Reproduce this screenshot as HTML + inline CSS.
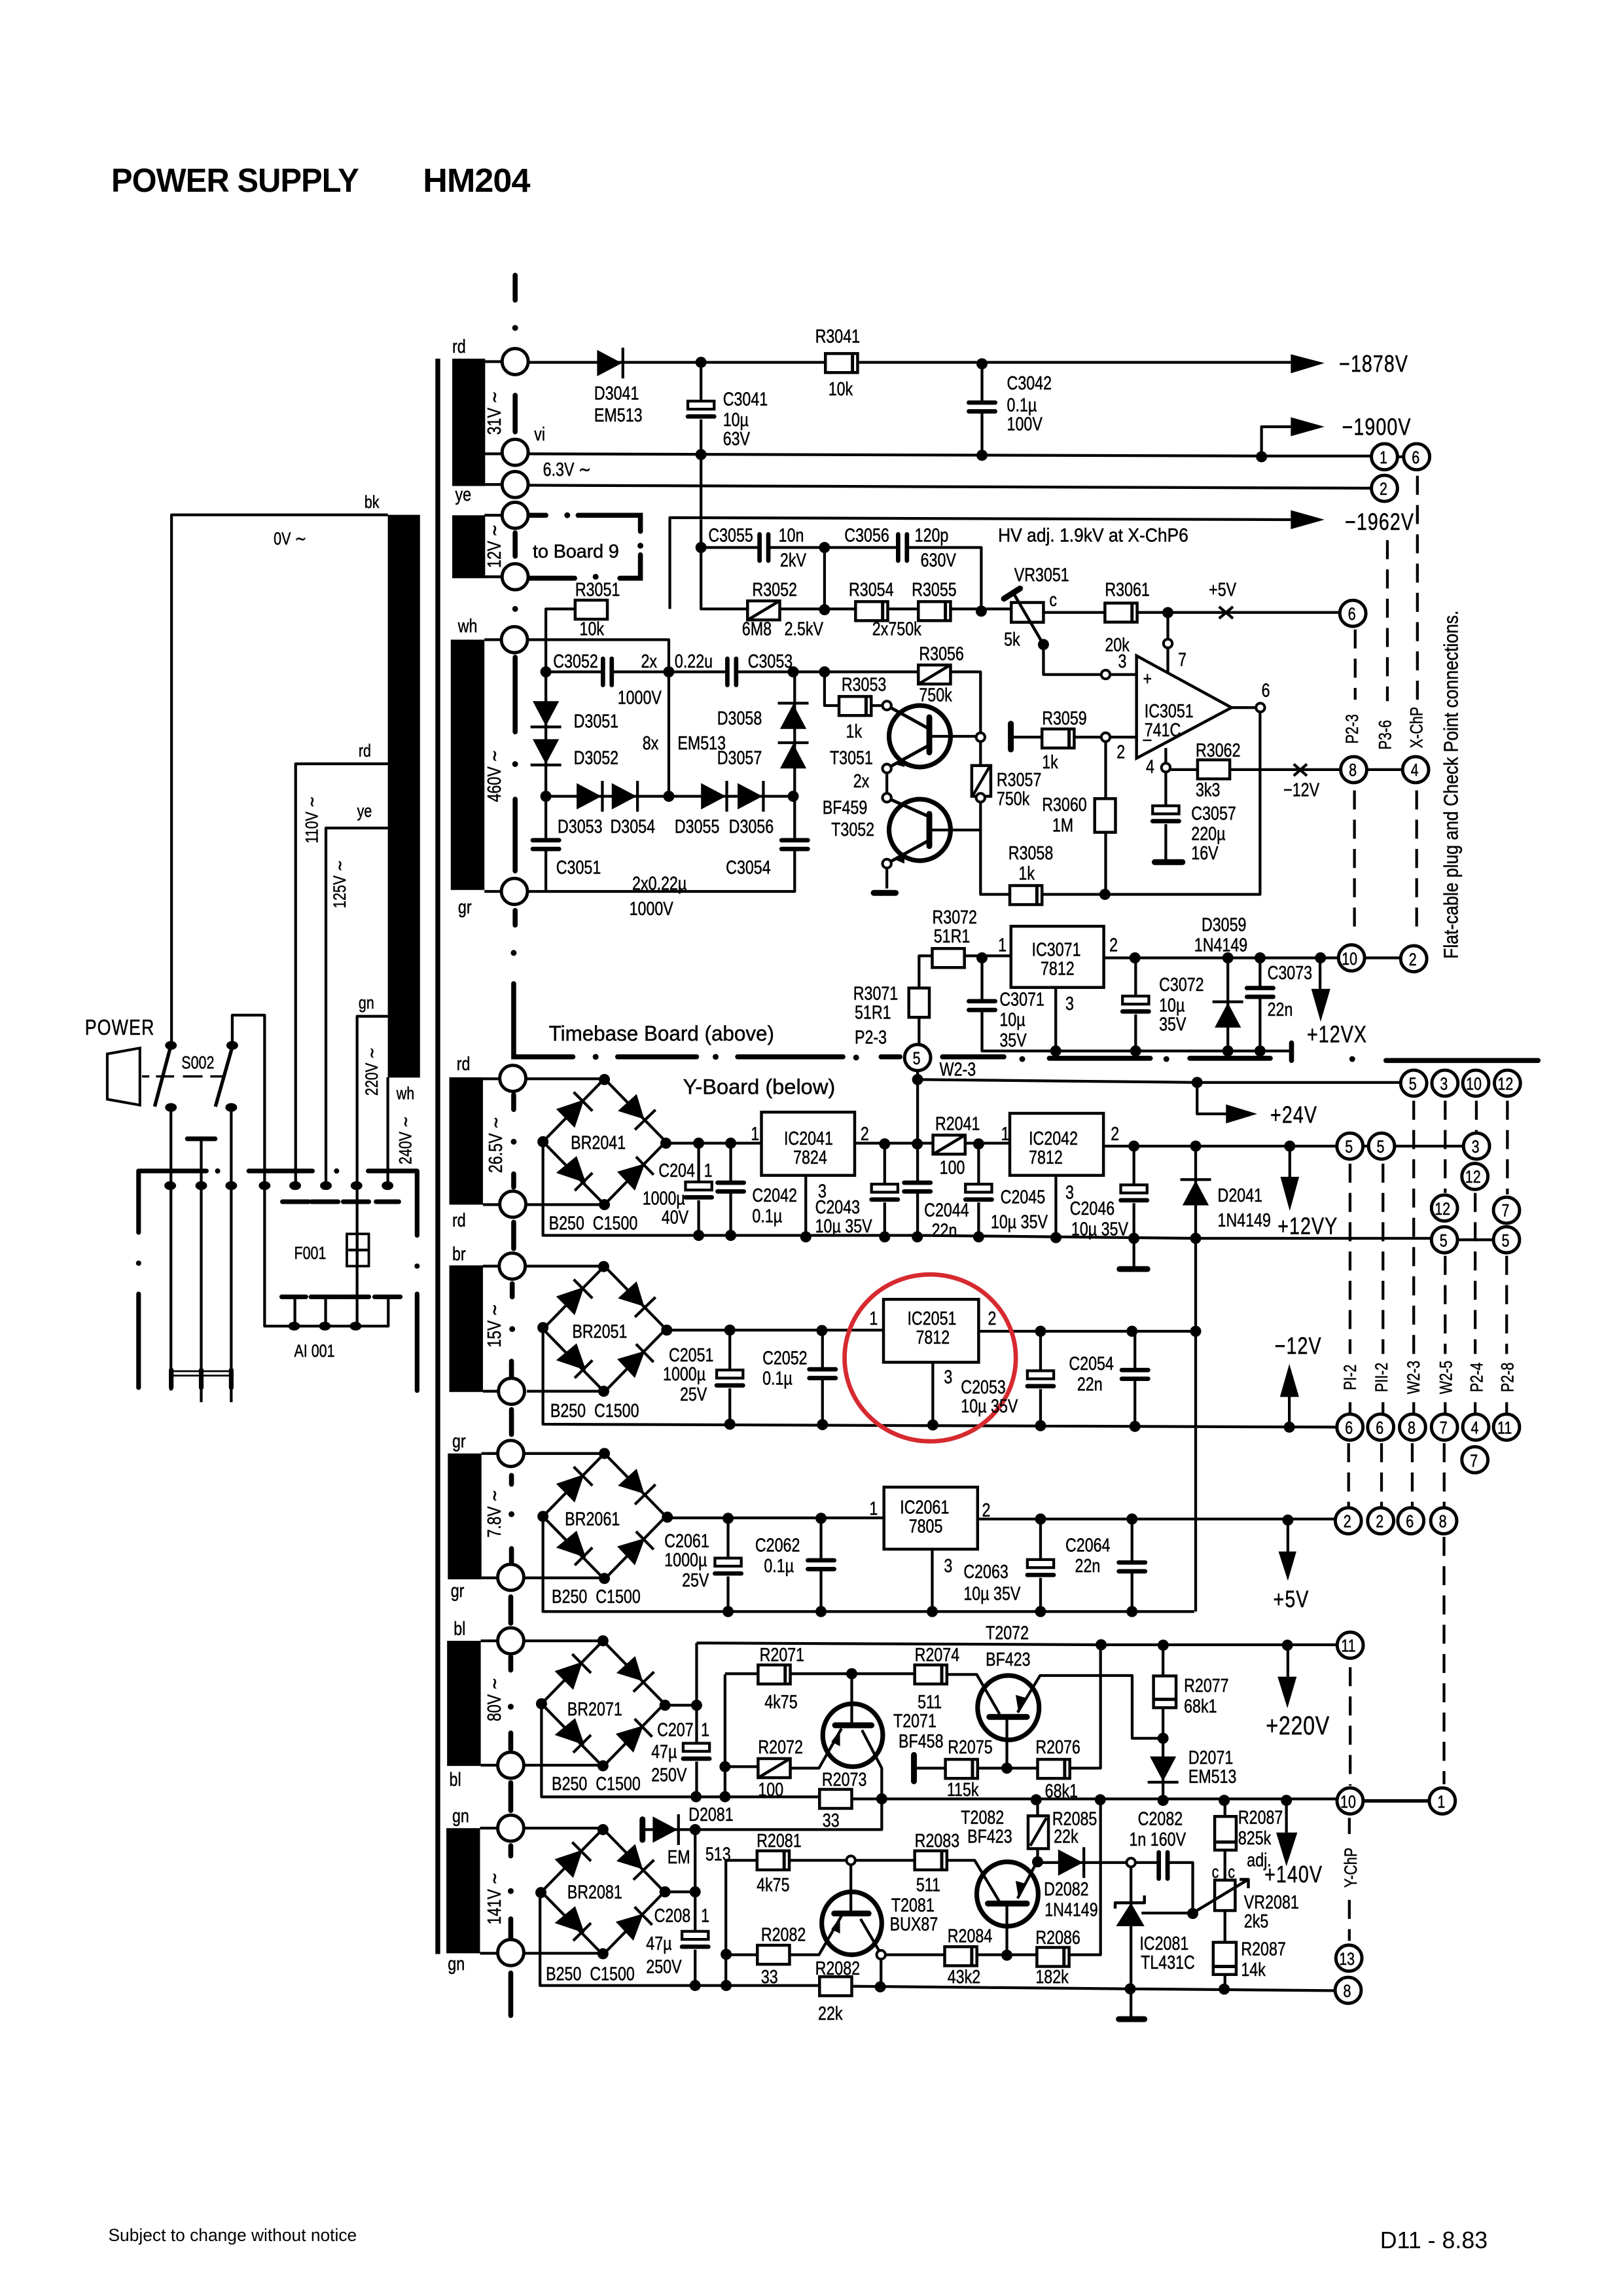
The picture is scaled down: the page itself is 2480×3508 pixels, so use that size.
<!DOCTYPE html>
<html><head><meta charset="utf-8"><title>Power Supply HM204</title>
<style>
html,body{margin:0;padding:0;background:#fff}
svg{display:block;width:2480px;height:3508px}
.w{fill:none;stroke:#000;stroke-width:1.9;stroke-linejoin:round}
.th{fill:none;stroke:#000;stroke-width:3.2;stroke-linecap:round}
.d{fill:none;stroke:#000;stroke-width:1.9;stroke-dasharray:13 7}
text{font-family:"Liberation Sans",sans-serif;font-size:13px;fill:#000;stroke:#000;stroke-width:.22}
text:not([transform]):not(.b):not(.x){transform-box:fill-box;transform-origin:0 50%;transform:scaleX(.8)}
.c text:not([transform]){transform-origin:50% 50%;transform:scaleX(.8)}
text.l:not([transform]){font-size:16px;letter-spacing:.6px;transform:scaleX(.72)}
text.g:not([transform]){font-size:18px;letter-spacing:.4px;transform:scaleX(.72)}
.c text{text-anchor:middle}
.b{font-weight:bold;font-size:23px;letter-spacing:-.4px;stroke-width:0}
.n12{font-size:12px}
</style></head><body>
<svg xmlns="http://www.w3.org/2000/svg" viewBox="0 0 1109 1568.6">
<defs>
<circle id="n" r="3.8"/>
<circle id="o" r="3" fill="#fff" stroke="#000" stroke-width="1.8"/>
<circle id="t" r="8.9" fill="#fff" stroke="#000" stroke-width="2.2"/>
<g id="r"><rect x="-11" y="-6.5" width="22" height="13" fill="#fff" stroke="#000" stroke-width="2"/></g>
<g id="rb"><rect x="-11" y="-6.5" width="22" height="13" fill="#fff" stroke="#000" stroke-width="2"/><path d="M7.5 -6V6" stroke="#000" stroke-width="2.2"/></g>
<g id="rs"><rect x="-11" y="-6.5" width="22" height="13" fill="#fff" stroke="#000" stroke-width="2"/><path d="M-10 6L10 -6" stroke="#000" stroke-width="2"/></g>
<g id="cp"><rect x="-10" y="-2.5" width="20" height="5" fill="#fff"/><path d="M-9 -3H9M-9 3H9" stroke="#000" stroke-width="3" stroke-linecap="round"/></g>
<g id="pc"><rect x="-10" y="-6" width="20" height="13" fill="#fff"/><rect x="-9" y="-5.5" width="18" height="5.5" fill="#fff" stroke="#000" stroke-width="1.9"/><path d="M-9 5H9" stroke="#000" stroke-width="3" stroke-linecap="round"/></g>
<g id="dr"><polygon points="-9,-9 -9,9 8,0"/><path d="M8.6 -10.5V10.5" stroke="#000" stroke-width="1.9"/></g>
<g id="br">
<path class="w" d="M-42 0L0 -43L42 0L0 43Z"/>
<polygon points="-33,-22.3 -20.3,-9.5 -13.9,-28.7"/><path d="M-21 -33.9L-8.2 -21" stroke="#000" stroke-width="1.9"/>
<polygon points="9.2,-21 22,-32.6 27.2,-15.4"/><path d="M20.8 -8.2L34.9 -21.8" stroke="#000" stroke-width="1.9"/>
<polygon points="-33,21.3 -19,9.8 -12.6,28.2"/><path d="M-20.3 33.4L-8.2 21.3" stroke="#000" stroke-width="1.9"/>
<polygon points="8.7,20.5 20.8,33.4 27.7,14.9"/><path d="M21.6 10.3L33.6 22.6" stroke="#000" stroke-width="1.9"/>
</g>
</defs>

<!-- titles -->
<text class="b" x="76" y="131" textLength="169" lengthAdjust="spacingAndGlyphs">POWER SUPPLY</text>
<text class="b" x="289" y="131" textLength="73" lengthAdjust="spacingAndGlyphs">HM204</text>
<text class="x" x="74" y="1531" style="font-size:11.8px;stroke-width:0">Subject to change without notice</text>
<text class="x" x="943" y="1536" style="font-size:16px;stroke-width:0">D11 - 8.83</text>

<!-- vertical divider and transformer blocks -->
<rect x="297.5" y="245" width="3.3" height="1090"/>
<g>
<rect x="309" y="245" width="22.5" height="87"/>
<rect x="309" y="352" width="22.5" height="43"/>
<rect x="308" y="437" width="23" height="171"/>
<rect x="307" y="736" width="23" height="87"/>
<rect x="307" y="864.5" width="23" height="86.5"/>
<rect x="306" y="993" width="23" height="86"/>
<rect x="305.5" y="1121" width="23" height="85.5"/>
<rect x="305" y="1249" width="23" height="85.5"/>
<rect x="265" y="351.7" width="22" height="384.5"/>
</g>

<!-- LEFT mains -->
<path class="w" d="M265 351.7H117.2V714M265 521.8H202V810M265 565.7H222.7V810M265 694.3H244V906M265 736V810M158.7 714V693.5H180.8V906H265.3V886M201.5 886V906M222.5 886V906M116.8 757V950M137.5 778V958M158 757V958M238 854H252"/>
<path class="w" style="stroke-width:2.4" d="M116.3 716L105.7 756M158.5 716L147.2 756"/>
<polygon points="73.3,720 95.6,716 95.6,755 73.3,751" fill="#fff" stroke="#000" stroke-width="1.8"/>
<path d="M97 735.4H102M106.6 735.4H119M125 735.4H138.4M143.7 735.4H152.5" stroke="#000" stroke-width="1.6"/>
<g fill="#000">
<ellipse cx="116.8" cy="714.2" rx="4" ry="3"/><ellipse cx="158.7" cy="714.2" rx="4" ry="3"/><ellipse cx="116.8" cy="756.6" rx="4" ry="3"/><ellipse cx="158" cy="756.6" rx="4" ry="3"/>
<ellipse cx="116.3" cy="810" rx="4" ry="3"/><ellipse cx="137.5" cy="810" rx="4" ry="3"/><ellipse cx="158" cy="810" rx="4" ry="3"/><ellipse cx="180.8" cy="810" rx="4" ry="3"/><ellipse cx="201.7" cy="810" rx="4" ry="3"/><ellipse cx="222.7" cy="810" rx="4" ry="3"/><ellipse cx="243.6" cy="810" rx="4" ry="3"/><ellipse cx="264.8" cy="810" rx="4" ry="3"/>
<ellipse cx="201" cy="906" rx="4" ry="3"/><ellipse cx="222" cy="906" rx="4" ry="3"/><ellipse cx="243" cy="906" rx="4" ry="3"/>
</g>
<path class="th" d="M128 778H147M96 800H141M170 800H213.5M251.6 800H285M94.7 800V842M94.7 884V948M285 800V844M285 884V950M193 821H211M213 821H231M234.5 821H252M257 821H272.5M192.5 886H209M212.5 886H233M234 886H252M256 886H273.5M117 936V948M137.5 936V948M158 936V948"/>
<path d="M117 936.8H158M117 939.8H158" stroke="#000" stroke-width="1.2"/>
<g><circle cx="148.7" cy="800" r="1.8"/><circle cx="230" cy="800" r="1.8"/><circle cx="94.7" cy="863" r="1.8"/><circle cx="285" cy="865" r="1.8"/></g>
<rect x="237" y="843" width="15" height="22" fill="none" stroke="#000" stroke-width="1.7"/>
<path class="w" d="M244 843V865"/>
<text x="249" y="347" class="n12">bk</text><text x="187" y="372" class="n12">0V ∼</text>
<text x="245" y="517" class="n12">rd</text><text x="244" y="558" class="n12">ye</text><text x="245" y="689" class="n12">gn</text><text x="271" y="751" class="n12">wh</text>
<text x="58" y="707" style="font-size:15px;letter-spacing:.6px">POWER</text>
<text x="124" y="730" class="n12">S002</text>
<text x="201" y="860" class="n12">F001</text><text x="201" y="927" class="n12">AI 001</text>
<g class="c">
<text transform="translate(217,560) rotate(-90) scale(.8,1)" class="n12">110V ∼</text>
<text transform="translate(236,604) rotate(-90) scale(.8,1)" class="n12">125V ∼</text>
<text transform="translate(258,732) rotate(-90) scale(.8,1)" class="n12">220V ∼</text>
<text transform="translate(281,779) rotate(-90) scale(.8,1)" class="n12">240V ∼</text>
</g>

<!-- Ground-plane vertical dash line -->
<path class="th" style="stroke-width:3.4" d="M352 188V205M352 270V295M352 364V380M352 449V500M352 546V595M352 622V632M351 748V758M351 802V811M351 835V853M350 877V886M349.5 930V943M349.5 963V980M349.5 1008V1014M349.5 1058V1067M349 1091V1109M349 1132V1141M349 1184V1195M349 1218V1237M349 1261V1268M349 1311V1324M349 1348V1377M351 672V722H391.5M422 722H476M504 722H576M602 722H615M644 722H686M717 723H786M813 723H868M882.5 712.5V724.5M947 724.5H1051M362 352H373M395 352H437.6V363M437.6 379V395H423.5M392.7 395H360.6"/>
<g>
<circle cx="352" cy="224" r="2"/><circle cx="352" cy="416" r="2"/><circle cx="352" cy="522" r="2"/><circle cx="351" cy="651" r="2"/>
<circle cx="351" cy="780" r="2"/><circle cx="350" cy="908" r="2"/><circle cx="349.5" cy="1034.5" r="2"/><circle cx="349" cy="1166" r="2"/><circle cx="349" cy="1292" r="2"/>
<circle cx="407" cy="722" r="2"/><circle cx="489" cy="722" r="2"/><circle cx="585" cy="722.5" r="2"/><circle cx="698.5" cy="723.5" r="2"/><circle cx="797" cy="723.5" r="2"/><circle cx="924" cy="723.5" r="2"/>
<circle cx="387.6" cy="352" r="2"/><circle cx="437.6" cy="372.8" r="2"/><circle cx="407" cy="394" r="2"/>
</g>

<!-- WIRES -->
<path class="w" d="M331 247H343M331 310H343M331 331H343M331 352H343M331 394H343M331 437H343M331 609H343M330 737H342M330 823H342M330 865H342M330 950.5H342M329 993H341M329 1078H341M328.5 1121H341M328.5 1206H341M328 1249H341M328 1334.5H341
M360 247.5H882
M479 247.5V416H691
M671 248V311
M360 310L862 311.5H937M955 312H960
M862 312V291.5H882
M360 331.5L937 333.5
M457.7 416V353.6L882 355
M394 416H373V609
M360 437H457V544
M360 609H543V459
M373 544H543
M373 459H670V611H861V483.4H841
M479 374H670.5V417.5M563.4 374V416
M691 418.4H916
M798 418V460
M692.6 405.4L713 440.3V460.8H776.6
M563.4 459V482H606
M606 525V545M635 503H670M635 567H670M606 590V607
M691 503.6H776.6M755.5 503.6V611
M796.6 511V589M797 525.8H916M934 525.8H958
M932 654.4H957
M628 675V653H691M628 695V713
M754 654.4H915M671 654V718H882M721.4 675V718M776 654V718M839 654V718M861 654V718M902 654V676
M627 731V845M627 737.5L818 739.5H957M818 740V761H838
M360 737H413M360 823H413
M371 780V844H627L817 846H978M996 847H1020
M455 781H521M584 781H691M754 783H914M953 783H1000M931 783H935
M477.4 781V844M499.3 781V844M550.6 803V845M604.5 781V845M668.7 781V845M721.5 803V846M774.8 783V867M817 783V1101M881.3 783V804
M360 865H412M360 950.5H412M371 907V973L913 975M455.6 908.7H604M668 909.5H817
M498.7 908.7V973M562 909V973M637.4 931V973M711 909.5V974M775.5 909.5V975M881 975V954
M358 993H413M358 1078H413M371 1036V1101H816M456 1037H604M668 1037.8H912
M497.5 1037V1101M561 1037V1101M637 1058V1101M711 1038V1101M773.5 1038V1101M880 1039V1060
M358 1121H412M358 1206H412M454 1165H476M476 1122.5V1227M476 1122.5L752 1123.7H913M370 1164V1227.6H560M582 1229H913
M495.4 1144V1227M495.4 1143.5H625M647 1144H667.4L683 1171M582 1143.5V1178M495 1207H518M540 1208H559.6L575 1181M589 1182L602.5 1208V1250H439
M624.5 1208H752V1123.7M688 1173V1208M695.3 1170L710.7 1144.7H773.6V1187.6H794.7M794.7 1123.7V1230M880 1124V1145.5
M358 1249H412M358 1334.5H412M454 1292.5H475M475 1250V1356M369 1293V1356.5H560M582 1357L772 1358.8L912 1360M496 1271V1357M496 1271H625M647 1271H666L682.8 1299M581.4 1271V1307M496 1335.5H517M540 1335.5H559.6L575 1309M588 1311L602 1335V1357M602 1335.5H752V1229.6M688 1300V1336M695.3 1297L708 1273M709 1229.6V1272M709 1272.5H815V1307H780M772.8 1272.5V1379M837 1230V1359M879 1230V1252"/>
<path class="w" style="stroke-width:2.4" d="M931 1230.4H976.5"/>
<path class="th" d="M686 409L697 402M690.7 494.4V512M789 589H808M597 610H612M765 867H784M764.5 1379.5H782M624.5 1199V1217M439 1243V1257M635 490V514M635 556V578M570.6 1178.7H595.5M570 1307.3H593.5M676 1173H701.7M675 1300.5H701.7" style="stroke-width:4"/>
<path class="w" style="stroke-width:2.2" d="M606 482L635 498M606 525L635 509M606 545L635 558M606 590L635 574"/>
<path class="w" d="M833 414.5L842.5 422.5M842.5 414.5L833 422.5M884 522L893 530M893 522L884 530"/>

<!-- opamp & ICs -->
<polygon points="776.6,448 776.6,518 841.5,483.4" fill="#fff" stroke="#000" stroke-width="2"/>
<rect x="690.8" y="632.8" width="63.4" height="41.8" fill="#fff" stroke="#000" stroke-width="2"/>
<rect x="520.3" y="759.8" width="63.7" height="43.2" fill="#fff" stroke="#000" stroke-width="2"/>
<rect x="690" y="760.6" width="64" height="42.4" fill="#fff" stroke="#000" stroke-width="2"/>
<rect x="603.7" y="887.7" width="65" height="43" fill="#fff" stroke="#000" stroke-width="2"/>
<rect x="604" y="1016" width="64" height="42.4" fill="#fff" stroke="#000" stroke-width="2"/>

<!-- transistors -->
<g fill="none" stroke="#000" stroke-width="3.2">
<circle cx="628.5" cy="503" r="21"/><circle cx="628.5" cy="567" r="21"/>
<ellipse cx="582.7" cy="1185.5" rx="20.5" ry="21.5"/><ellipse cx="582" cy="1314" rx="20.5" ry="21.5"/>
<ellipse cx="689" cy="1166.7" rx="21" ry="22"/><ellipse cx="688.4" cy="1294" rx="21" ry="22"/>
</g>
<g>
<polygon points="618,517 611,522 618,524"/><polygon points="618,583 611,587 618,590"/>
<polygon points="574,1182 568,1190 574,1193"/><polygon points="574,1310 568,1318 574,1321"/>
<polygon points="696,1170 701,1160 694,1158"/><polygon points="696,1297 701,1287 694,1285"/>
</g>

<!-- Bridges -->
<use href="#br" x="413" y="780"/><use href="#br" x="413" y="908"/><use href="#br" x="413" y="1036"/><use href="#br" x="412" y="1164"/><use href="#br" x="412" y="1292.5"/>

<!-- Diodes -->
<use href="#dr" transform="translate(417,248)"/>
<use href="#dr" transform="translate(373,488) rotate(90)"/>
<use href="#dr" transform="translate(373,514) rotate(90)"/>
<use href="#dr" transform="translate(542,489) rotate(-90)"/>
<use href="#dr" transform="translate(542,516) rotate(-90)"/>
<use href="#dr" transform="translate(403,544)"/><use href="#dr" transform="translate(427,544)"/><use href="#dr" transform="translate(488,544)"/><use href="#dr" transform="translate(513,544)"/>
<use href="#dr" transform="translate(839,693) rotate(-90)"/>
<use href="#dr" transform="translate(817,814.5) rotate(-90)"/>
<use href="#dr" transform="translate(794.7,1209) rotate(90)"/>
<use href="#dr" transform="translate(455,1250)"/>
<use href="#dr" transform="translate(732,1272.5)"/>
<polygon points="772.8,1300 762.6,1316 782,1316"/><path class="w" style="stroke-width:2" d="M762 1304V1300H782V1295"/>

<!-- Resistors -->
<use href="#rb" x="575" y="248"/><use href="#r" x="404" y="416.5"/><use href="#rs" x="521.8" y="417"/><use href="#rb" x="595.6" y="417.5"/><use href="#rb" x="638.5" y="417.5"/>
<use href="#rs" x="638.5" y="460.8"/><use href="#rb" x="584.3" y="482.3"/><use href="#rb" x="766" y="418.5"/><use href="#rb" x="723" y="504.5"/><use href="#r" x="829.3" y="525.6"/><use href="#rb" x="701" y="611.5"/>
<rect x="691" y="411.6" width="22" height="13.5" fill="#fff" stroke="#000" stroke-width="2"/>
<path class="w" style="stroke-width:2" d="M692.6 405.4L713 440.3"/>
<rect x="664" y="523" width="13" height="21" fill="#fff" stroke="#000" stroke-width="2"/><path class="w" d="M665 543L676 524"/>
<rect x="748" y="545.6" width="14.2" height="23" fill="#fff" stroke="#000" stroke-width="2"/>
<rect x="621" y="675" width="14" height="20" fill="#fff" stroke="#000" stroke-width="2"/>
<use href="#r" x="648" y="654.5"/><use href="#rs" x="648.5" y="782"/>
<use href="#rb" x="529" y="1144"/><use href="#rb" x="636" y="1144"/><use href="#rs" x="529" y="1208"/><use href="#r" x="571" y="1229"/><use href="#rb" x="657" y="1208.5"/><use href="#rb" x="720" y="1208.5"/>
<use href="#rb" x="528.3" y="1271"/><use href="#rb" x="636" y="1271"/><use href="#r" x="528.5" y="1335.5"/><use href="#r" x="571" y="1357"/><use href="#rb" x="656.5" y="1336.5"/><use href="#rb" x="719.5" y="1337"/>
<rect x="788.2" y="1145" width="15.4" height="21.7" fill="#fff" stroke="#000" stroke-width="2"/><path d="M789 1161H803" stroke="#000" stroke-width="2.2"/>
<rect x="702.5" y="1240.6" width="13.9" height="22.4" fill="#fff" stroke="#000" stroke-width="2"/><path class="w" d="M704 1261L715 1242"/>
<rect x="830" y="1241" width="14.7" height="23" fill="#fff" stroke="#000" stroke-width="2"/><path d="M831 1258.5H844" stroke="#000" stroke-width="2.2"/>
<rect x="830" y="1284.5" width="14" height="20.8" fill="#fff" stroke="#000" stroke-width="2"/>
<rect x="829" y="1327" width="15.7" height="22" fill="#fff" stroke="#000" stroke-width="2"/><path d="M830 1343.5H844" stroke="#000" stroke-width="2.2"/>
<path class="w" style="stroke-width:2" d="M815 1307L853 1284M847 1284H853V1290"/>

<!-- Capacitors -->
<use href="#pc" x="479" y="279.5"/><use href="#cp" x="671" y="278"/>
<use href="#cp" transform="translate(522,374) rotate(90)"/><use href="#cp" transform="translate(616.7,374) rotate(90)"/>
<use href="#cp" transform="translate(415,459) rotate(90)"/><use href="#cp" transform="translate(500,459) rotate(90)"/>
<use href="#cp" x="373" y="577"/><use href="#cp" x="543" y="577"/>
<use href="#pc" x="796.6" y="556"/>
<use href="#cp" x="671" y="687"/><use href="#pc" x="776" y="686"/><use href="#cp" x="861" y="678"/>
<use href="#pc" x="477.4" y="813"/><use href="#cp" x="499.3" y="811"/><use href="#pc" x="604.5" y="814.5"/><use href="#cp" x="626.8" y="811"/><use href="#pc" x="668.7" y="814.5"/><use href="#pc" x="774.8" y="815"/>
<use href="#pc" x="498.7" y="941.5"/><use href="#cp" x="562" y="938.5"/><use href="#pc" x="711" y="942"/><use href="#cp" x="775.5" y="939"/>
<use href="#pc" x="497.5" y="1070"/><use href="#cp" x="561" y="1069"/><use href="#pc" x="711" y="1071"/><use href="#cp" x="773.5" y="1070.5"/>
<use href="#pc" x="475.8" y="1196.5"/><use href="#pc" x="475" y="1325"/>
<use href="#cp" transform="translate(794.8,1274.5) rotate(90)"/>

<!-- Arrows -->
<polygon points="882,242 882,255 905,248"/><polygon points="882,285 882,298 905,291.5"/><polygon points="882,348.5 882,361.5 905,355"/>
<polygon points="837.7,754.5 837.7,767.5 859,761"/>
<polygon points="896,675.6 909,675.6 902.4,698"/>
<polygon points="874.9,804 887.7,804 881.3,827.3"/>
<polygon points="874.6,954.4 887.6,954.4 881,931.8"/>
<polygon points="873.6,1060 885.8,1060 880,1080"/>
<polygon points="873,1145.5 886,1145.5 879.7,1167"/>
<polygon points="872,1252 886.5,1252 879,1275"/>

<!-- Nodes -->
<g>
<use href="#n" x="479" y="247.5"/><use href="#n" x="671" y="248.5"/><use href="#n" x="479" y="310.5"/><use href="#n" x="671" y="311"/><use href="#n" x="862" y="312"/>
<use href="#n" x="479" y="374"/><use href="#n" x="563.4" y="374"/><use href="#n" x="563.4" y="416.5"/><use href="#n" x="670.5" y="417.5"/><use href="#n" x="798" y="418.5"/><use href="#n" x="713" y="440.3"/>
<use href="#n" x="373" y="459"/><use href="#n" x="457" y="459"/><use href="#n" x="542" y="459"/><use href="#n" x="563.4" y="459"/><use href="#n" x="373" y="544"/><use href="#n" x="457" y="544"/><use href="#n" x="542" y="544"/><use href="#n" x="755" y="611"/>
<use href="#n" x="671" y="654.4"/><use href="#n" x="775.5" y="654.4"/><use href="#n" x="839" y="654.4"/><use href="#n" x="861" y="654.4"/><use href="#n" x="902.3" y="654.4"/>
<use href="#n" x="721.4" y="718"/><use href="#n" x="776" y="718"/><use href="#n" x="839" y="718"/><use href="#n" x="861" y="718"/>
<use href="#n" x="627" y="737.5"/><use href="#n" x="818" y="739.5"/><use href="#n" x="413" y="737.5"/><use href="#n" x="371" y="780"/><use href="#n" x="455" y="781"/><use href="#n" x="413" y="823"/>
<use href="#n" x="477.4" y="781"/><use href="#n" x="499.3" y="781"/><use href="#n" x="604.5" y="781.5"/><use href="#n" x="626.8" y="781.5"/><use href="#n" x="668.7" y="781.5"/><use href="#n" x="774.8" y="783"/><use href="#n" x="817" y="783"/><use href="#n" x="881.3" y="783"/>
<use href="#n" x="477.4" y="844"/><use href="#n" x="499.3" y="844"/><use href="#n" x="550.6" y="845"/><use href="#n" x="604.5" y="845"/><use href="#n" x="626.8" y="845"/><use href="#n" x="668.7" y="845"/><use href="#n" x="721.5" y="845.5"/><use href="#n" x="774.8" y="846"/><use href="#n" x="817" y="846"/>
<use href="#n" x="412.5" y="865.3"/><use href="#n" x="371" y="907"/><use href="#n" x="455.6" y="908.7"/><use href="#n" x="412.5" y="950.5"/><use href="#n" x="498.7" y="908.7"/><use href="#n" x="561.6" y="909"/><use href="#n" x="711" y="909.5"/><use href="#n" x="773.5" y="909.5"/><use href="#n" x="817" y="909.5"/>
<use href="#n" x="498.7" y="973"/><use href="#n" x="562" y="973.3"/><use href="#n" x="637.4" y="973.5"/><use href="#n" x="711" y="974"/><use href="#n" x="775.5" y="974.5"/><use href="#n" x="881" y="975"/>
<use href="#n" x="413" y="993"/><use href="#n" x="371" y="1036"/><use href="#n" x="456" y="1036.5"/><use href="#n" x="413" y="1078.4"/><use href="#n" x="497.5" y="1037.3"/><use href="#n" x="561" y="1037.3"/><use href="#n" x="711" y="1037.8"/><use href="#n" x="773.5" y="1037.8"/><use href="#n" x="880" y="1038.5"/>
<use href="#n" x="497.5" y="1101"/><use href="#n" x="561" y="1101"/><use href="#n" x="637" y="1101"/><use href="#n" x="711" y="1101"/><use href="#n" x="773.5" y="1101"/>
<use href="#n" x="412" y="1121"/><use href="#n" x="370" y="1164"/><use href="#n" x="454.4" y="1165"/><use href="#n" x="412" y="1206.4"/><use href="#n" x="476" y="1165"/><use href="#n" x="475.6" y="1227.5"/><use href="#n" x="495.4" y="1227.5"/><use href="#n" x="495.4" y="1207"/><use href="#n" x="582" y="1143.5"/><use href="#n" x="602.5" y="1229"/><use href="#n" x="688" y="1208"/>
<use href="#n" x="752.4" y="1123.7"/><use href="#n" x="794.8" y="1124"/><use href="#n" x="879.7" y="1124"/><use href="#n" x="794.7" y="1187.6"/>
<use href="#n" x="708" y="1229.6"/><use href="#n" x="751.8" y="1229.6"/><use href="#n" x="794.7" y="1230"/><use href="#n" x="836.5" y="1230"/><use href="#n" x="879" y="1230"/>
<use href="#n" x="412" y="1250"/><use href="#n" x="369.6" y="1293"/><use href="#n" x="454.4" y="1292.5"/><use href="#n" x="412" y="1334.8"/><use href="#n" x="475" y="1250"/><use href="#n" x="475" y="1292.5"/><use href="#n" x="475" y="1356.5"/><use href="#n" x="496.2" y="1356.5"/><use href="#n" x="496.2" y="1335.2"/><use href="#n" x="601.5" y="1357.4"/><use href="#n" x="688" y="1335.8"/><use href="#n" x="709" y="1272"/><use href="#n" x="815" y="1307.3"/><use href="#n" x="772.3" y="1358.8"/><use href="#n" x="836.5" y="1359"/>
</g>
<g>
<use href="#o" x="606" y="482"/><use href="#o" x="606" y="525"/><use href="#o" x="606" y="545"/><use href="#o" x="606" y="590"/><use href="#o" x="670" y="503.6"/><use href="#o" x="670" y="545"/>
<use href="#o" x="798" y="439.6"/><use href="#o" x="755.5" y="460.8"/><use href="#o" x="755.5" y="503.6"/><use href="#o" x="796.6" y="524.4"/><use href="#o" x="861.2" y="483.4"/>
<use href="#o" x="581.4" y="1271"/><use href="#o" x="602" y="1335.5"/><use href="#o" x="772.8" y="1272.5"/>
</g>

<!-- Transformer side terminals -->
<g>
<use href="#t" x="352" y="247"/><use href="#t" x="352" y="309"/><use href="#t" x="352" y="331"/><use href="#t" x="352" y="352"/><use href="#t" x="352" y="394"/><use href="#t" x="351.5" y="437"/><use href="#t" x="351.5" y="609"/>
<use href="#t" x="350.4" y="736.7"/><use href="#t" x="350.4" y="822.7"/><use href="#t" x="350" y="865"/><use href="#t" x="349.5" y="950.5"/><use href="#t" x="349" y="993"/><use href="#t" x="349" y="1077.6"/><use href="#t" x="349" y="1121"/><use href="#t" x="349" y="1206"/><use href="#t" x="349" y="1249"/><use href="#t" x="349" y="1334"/>
</g>

<!-- Numbered terminals -->
<g class="c">
<use href="#t" x="946" y="312"/><text x="946" y="316.5" class="n12">1</text>
<use href="#t" x="968" y="312"/><text x="968" y="316.5" class="n12">6</text>
<use href="#t" x="946" y="333.6"/><text x="946" y="338" class="n12">2</text>
<use href="#t" x="924.4" y="419"/><text x="924.4" y="423.5" class="n12">6</text>
<use href="#t" x="925" y="525.8"/><text x="925" y="530" class="n12">8</text>
<use href="#t" x="967.3" y="525.8"/><text x="967.3" y="530" class="n12">4</text>
<use href="#t" x="923.5" y="654.4"/><text x="923.5" y="659" class="n12">10</text>
<use href="#t" x="966" y="655"/><text x="966" y="659.5" class="n12">2</text>
<use href="#t" x="627" y="722.5"/><text x="627" y="727" class="n12">5</text>
<use href="#t" x="966" y="740"/><text x="966" y="744.5" class="n12">5</text>
<use href="#t" x="987.3" y="740"/><text x="987.3" y="744.5" class="n12">3</text>
<use href="#t" x="1008.4" y="740"/><text x="1008.4" y="744.5" class="n12">10</text>
<use href="#t" x="1030" y="740"/><text x="1030" y="744.5" class="n12">12</text>
<use href="#t" x="922.4" y="783"/><text x="922.4" y="787.5" class="n12">5</text>
<use href="#t" x="944" y="783"/><text x="944" y="787.5" class="n12">5</text>
<use href="#t" x="1008.9" y="783"/><text x="1008.9" y="787.5" class="n12">3</text>
<use href="#t" x="1007.8" y="803.7"/><text x="1007.8" y="808" class="n12">12</text>
<use href="#t" x="987" y="825.3"/><text x="987" y="830" class="n12">12</text>
<use href="#t" x="1029.4" y="826.8"/><text x="1029.4" y="831" class="n12">7</text>
<use href="#t" x="987" y="847"/><text x="987" y="851.5" class="n12">5</text>
<use href="#t" x="1029.4" y="847"/><text x="1029.4" y="851.5" class="n12">5</text>
<use href="#t" x="922.4" y="975"/><text x="922.4" y="979.5" class="n12">6</text>
<use href="#t" x="943.4" y="975"/><text x="943.4" y="979.5" class="n12">6</text>
<use href="#t" x="965.2" y="975"/><text x="965.2" y="979.5" class="n12">8</text>
<use href="#t" x="987" y="975"/><text x="987" y="979.5" class="n12">7</text>
<use href="#t" x="1008.4" y="975"/><text x="1008.4" y="979.5" class="n12">4</text>
<use href="#t" x="1029.4" y="975"/><text x="1029.4" y="979.5" class="n12">11</text>
<use href="#t" x="1007.8" y="997.3"/><text x="1007.8" y="1002" class="n12">7</text>
<use href="#t" x="921.3" y="1039"/><text x="921.3" y="1043.5" class="n12">2</text>
<use href="#t" x="943.4" y="1039"/><text x="943.4" y="1043.5" class="n12">2</text>
<use href="#t" x="964" y="1039"/><text x="964" y="1043.5" class="n12">6</text>
<use href="#t" x="986.5" y="1039"/><text x="986.5" y="1043.5" class="n12">8</text>
<use href="#t" x="922.6" y="1124"/><text x="922.6" y="1128.5" class="n12">11</text>
<use href="#t" x="922.5" y="1230.4"/><text x="922.5" y="1235" class="n12">10</text>
<use href="#t" x="985.5" y="1230.4"/><text x="985.5" y="1235" class="n12">1</text>
<use href="#t" x="921.7" y="1337.8"/><text x="921.7" y="1342.3" class="n12">13</text>
<use href="#t" x="921.2" y="1359.8"/><text x="921.2" y="1364.3" class="n12">8</text>
</g>

<!-- Dashed flat-cable lines -->
<path class="d" d="M968.5 325V478M968 540V640M948 369V479M926 430V478M925.5 540V640
M966 752V925M966 958V966M965 986V1030M945 795V925M945 958V966M944 986V1030M922.5 795V925M922.5 958V966M921.5 986V1030
M987.5 752V815M987.5 858V925M987.5 958V966M986.8 986V1030M986.7 1050V1219
M1008.8 752V774M1008 815V925M1008 958V966M1030 752V816M1029.5 858V925M1029.5 958V966
M922.6 1139V1220M922 1242V1253M922 1298V1326"/>

<!-- Red highlight -->
<ellipse cx="635.6" cy="927.7" rx="58.5" ry="57" fill="none" stroke="#d62a30" stroke-width="3"/>

<!-- Labels: upper section -->
<text x="309" y="241">rd</text><text x="311" y="342">ye</text><text x="365" y="301">vi</text><text x="313" y="432">wh</text><text x="313" y="624">gr</text>
<text x="371" y="325">6.3V ∼</text><text x="406" y="273">D3041</text><text x="406" y="288">EM513</text>
<text x="557" y="234">R3041</text><text x="566" y="270">10k</text>
<text x="494" y="277">C3041</text><text x="494" y="291">10µ</text><text x="494" y="304">63V</text>
<text x="688" y="266">C3042</text><text x="688" y="281">0.1µ</text><text x="688" y="294">100V</text>
<text class="l" x="915" y="254">−1878V</text><text class="l" x="917" y="297">−1900V</text><text class="l" x="919" y="362">−1962V</text>
<text class="x" x="364" y="381" textLength="59" lengthAdjust="spacing">to Board 9</text>
<text x="484" y="370">C3055</text><text x="532" y="370">10n</text><text x="533" y="387">2kV</text>
<text x="577" y="370">C3056</text><text x="625" y="370">120p</text><text x="629" y="387">630V</text>
<text class="x" x="682" y="370" textLength="130" lengthAdjust="spacingAndGlyphs">HV adj. 1.9kV at X-ChP6</text>
<text x="393" y="407">R3051</text><text x="396" y="434">10k</text>
<text x="514" y="407">R3052</text><text x="507" y="434">6M8</text><text x="536" y="434">2.5kV</text>
<text x="580" y="407">R3054</text><text x="623" y="407">R3055</text><text x="596" y="434">2x750k</text>
<text x="378" y="456">C3052</text><text x="438" y="456">2x</text><text x="422" y="481">1000V</text>
<text x="461" y="456">0.22u</text><text x="511" y="456">C3053</text>
<text x="628" y="451">R3056</text><text x="628" y="479">750k</text>
<text x="575" y="472">R3053</text><text x="578" y="504">1k</text>
<text x="392" y="497">D3051</text><text x="392" y="522">D3052</text><text x="439" y="512">8x</text><text x="463" y="512">EM513</text><text x="490" y="495">D3058</text><text x="490" y="522">D3057</text>
<text x="381" y="569">D3053</text><text x="417" y="569">D3054</text><text x="461" y="569">D3055</text><text x="498" y="569">D3056</text>
<text x="567" y="522">T3051</text><text x="583" y="538">2x</text><text x="562" y="556">BF459</text><text x="568" y="571">T3052</text>
<text x="380" y="597">C3051</text><text x="496" y="597">C3054</text><text x="432" y="608">2x0.22µ</text><text x="430" y="625">1000V</text>
<text x="693" y="397">VR3051</text><text x="717" y="414">c</text><text x="686" y="441">5k</text>
<text x="755" y="407">R3061</text><text x="755" y="445">20k</text><text x="826" y="407">+5V</text>
<text x="764" y="456">3</text><text x="805" y="455">7</text><text x="862" y="476">6</text><text x="781" y="468">+</text>
<text x="782" y="490">IC3051</text><text x="782" y="503">741C</text><text x="781" y="509">–</text>
<text x="763" y="518">2</text><text x="783" y="528">4</text>
<text x="712" y="495">R3059</text><text x="712" y="525">1k</text>
<text x="681" y="537">R3057</text><text x="681" y="550">750k</text>
<text x="712" y="554">R3060</text><text x="719" y="568">1M</text>
<text x="689" y="587">R3058</text><text x="696" y="601">1k</text>
<text x="817" y="517">R3062</text><text x="817" y="544">3k3</text><text x="877" y="544">−12V</text>
<text x="814" y="560">C3057</text><text x="814" y="574">220µ</text><text x="814" y="587">16V</text>
<text x="637" y="631">R3072</text><text x="638" y="644">51R1</text>
<text x="583" y="683">R3071</text><text x="584" y="696">51R1</text><text x="584" y="713">P2-3</text>
<text x="682" y="650">1</text><text x="758" y="650">2</text><text x="705" y="653">IC3071</text><text x="711" y="666">7812</text><text x="728" y="690">3</text>
<text x="683" y="687">C3071</text><text x="683" y="701">10µ</text><text x="683" y="715">35V</text>
<text x="792" y="677">C3072</text><text x="792" y="691">10µ</text><text x="792" y="704">35V</text>
<text x="821" y="636">D3059</text><text x="816" y="650">1N4149</text>
<text x="866" y="669">C3073</text><text x="866" y="694">22n</text>
<text class="l" x="893" y="712">+12VX</text>

<g class="c">
<text transform="translate(342,282) rotate(-90) scale(.8,1)">31V ∼</text>
<text transform="translate(342,373) rotate(-90) scale(.8,1)">12V ∼</text>
<text transform="translate(342,530) rotate(-90) scale(.8,1)">460V ∼</text>
<text transform="translate(343,782) rotate(-90) scale(.8,1)">26.5V ∼</text>
<text transform="translate(342,905.6) rotate(-90) scale(.8,1)">15V ∼</text>
<text transform="translate(342,1034) rotate(-90) scale(.8,1)">7.8V ∼</text>
<text transform="translate(342,1161) rotate(-90) scale(.8,1)">80V ∼</text>
<text transform="translate(342,1297) rotate(-90) scale(.8,1)">141V ∼</text>
<text transform="translate(928,498) rotate(-90) scale(.8,1)" class="n12">P2-3</text>
<text transform="translate(950.5,502) rotate(-90) scale(.8,1)" class="n12">P3-6</text>
<text transform="translate(972,497) rotate(-90) scale(.8,1)" class="n12">X-ChP</text>
<text transform="translate(996,536) rotate(-90)" textLength="238" lengthAdjust="spacingAndGlyphs" style="font-size:13.5px">Flat-cable plug and Check Point connections.</text>
<text transform="translate(926.5,941) rotate(-90) scale(.8,1)" class="n12">PI-2</text>
<text transform="translate(948,941) rotate(-90) scale(.8,1)" class="n12">PII-2</text>
<text transform="translate(970,941) rotate(-90) scale(.8,1)" class="n12">W2-3</text>
<text transform="translate(992,941) rotate(-90) scale(.8,1)" class="n12">W2-5</text>
<text transform="translate(1013,941) rotate(-90) scale(.8,1)" class="n12">P2-4</text>
<text transform="translate(1034,941) rotate(-90) scale(.8,1)" class="n12">P2-8</text>
<text transform="translate(927,1276) rotate(-90) scale(.8,1)" class="n12">Y-ChP</text>
</g>

<text class="x" x="375" y="711" textLength="154" lengthAdjust="spacingAndGlyphs" style="font-size:14.5px">Timebase Board (above)</text>
<text class="x" x="466.7" y="747.5" textLength="104" lengthAdjust="spacingAndGlyphs" style="font-size:14.5px">Y-Board (below)</text>
<text x="642" y="735">W2-3</text>
<text class="l" x="868" y="767">+24V</text>

<!-- 2041 -->
<text x="312" y="731">rd</text><text x="309" y="838">rd</text>
<text x="390" y="785">BR2041</text><text x="375" y="840">B250 &#160;C1500</text>
<text x="450" y="804">C204</text><text x="481" y="804">1</text><text x="439" y="823">1000µ</text><text x="452" y="836">40V</text>
<text x="514" y="821">C2042</text><text x="514" y="835">0.1µ</text><text x="513" y="779">1</text><text x="588" y="779">2</text>
<text x="535.7" y="782">IC2041</text><text x="542" y="795">7824</text><text x="559" y="818">3</text><text x="557" y="829">C2043</text><text x="557" y="842">10µ 35V</text>
<text x="639" y="772">R2041</text><text x="642" y="802">100</text><text x="631.5" y="831">C2044</text><text x="636.6" y="845">22n</text>
<text x="684" y="779">1</text><text x="759" y="779">2</text><text x="703" y="782">IC2042</text><text x="703" y="795">7812</text>
<text x="683.6" y="822">C2045</text><text x="677" y="839">10µ 35V</text><text x="728" y="819">3</text><text x="731" y="830">C2046</text><text x="732" y="844">10µ 35V</text>
<text x="832" y="821">D2041</text><text x="832" y="838">1N4149</text>
<text class="l" x="873" y="843">+12VY</text>
<!-- 2051 -->
<text x="309" y="861">br</text>
<text x="391" y="914">BR2051</text><text x="376" y="968">B250 &#160;C1500</text>
<text x="457" y="930">C2051</text><text x="453" y="943">1000µ</text><text x="464.6" y="957">25V</text>
<text x="521" y="932">C2052</text><text x="521" y="946">0.1µ</text>
<text x="594" y="905">1</text><text x="620" y="905">IC2051</text><text x="625.8" y="918">7812</text><text x="675" y="905">2</text><text x="645" y="945">3</text><text x="656.6" y="952">C2053</text><text x="656.6" y="965">10µ 35V</text>
<text x="730.4" y="936">C2054</text><text x="736" y="950">22n</text>
<text class="l" x="871" y="925">−12V</text>
<!-- 2061 -->
<text x="309" y="989">gr</text><text x="308" y="1091">gr</text>
<text x="386" y="1042">BR2061</text><text x="454" y="1057">C2061</text><text x="454" y="1070">1000µ</text><text x="466" y="1084">25V</text><text x="377" y="1095">B250 &#160;C1500</text>
<text x="516" y="1060">C2062</text><text x="522" y="1074">0.1µ</text>
<text x="594" y="1035">1</text><text x="615" y="1034">IC2061</text><text x="621" y="1047">7805</text><text x="671" y="1036">2</text><text x="645" y="1074">3</text><text x="658.4" y="1078">C2063</text><text x="658.4" y="1093">10µ 35V</text>
<text x="728" y="1060">C2064</text><text x="734.5" y="1074">22n</text>
<text class="l" x="870" y="1098">+5V</text>
<!-- 2071 -->
<text x="310" y="1117">bl</text><text x="307" y="1220">bl</text>
<text x="387.6" y="1172">BR2071</text><text x="377" y="1223">B250 &#160;C1500</text>
<text x="449" y="1186">C207</text><text x="479" y="1186">1</text><text x="445" y="1201">47µ</text><text x="445" y="1217">250V</text>
<text x="519" y="1135">R2071</text><text x="522.4" y="1167">4k75</text><text x="625" y="1135">R2074</text><text x="627" y="1167">511</text>
<text x="610.4" y="1180">T2071</text><text x="614" y="1194">BF458</text><text x="647.6" y="1198">R2075</text><text x="647" y="1227">115k</text>
<text x="518" y="1198">R2072</text><text x="518" y="1227">100</text><text x="561.6" y="1220">R2073</text><text x="562" y="1248">33</text><text x="470.5" y="1244">D2081</text>
<text x="673.5" y="1120">T2072</text><text x="673.5" y="1138">BF423</text><text x="707.6" y="1198">R2076</text><text x="714" y="1228">68k1</text>
<text x="809" y="1156">R2077</text><text x="809" y="1170">68k1</text><text x="812" y="1205">D2071</text><text x="812" y="1218">EM513</text>
<text class="g" x="865" y="1185">+220V</text>
<!-- 2081 -->
<text x="309" y="1245">gn</text><text x="306" y="1346">gn</text>
<text x="656.6" y="1246">T2082</text><text x="661" y="1259">BF423</text>
<text x="456" y="1273">EM</text><text x="482" y="1271">513</text>
<text x="517" y="1262">R2081</text><text x="517" y="1292">4k75</text><text x="625" y="1262">R2083</text><text x="626" y="1292">511</text>
<text x="609" y="1306">T2081</text><text x="608" y="1319">BUX87</text>
<text x="387.6" y="1297">BR2081</text><text x="447" y="1313">C208</text><text x="479" y="1313">1</text><text x="441.5" y="1332">47µ</text><text x="441.5" y="1348">250V</text><text x="373" y="1353">B250 &#160;C1500</text>
<text x="520" y="1326">R2082</text><text x="520" y="1355">33</text><text x="557" y="1349">R2082</text><text x="559" y="1380">22k</text>
<text x="647.4" y="1327">R2084</text><text x="647.4" y="1355">43k2</text><text x="707.6" y="1328">R2086</text><text x="707.6" y="1355">182k</text>
<text x="719" y="1247">R2085</text><text x="720" y="1259">22k</text><text x="777.5" y="1247">C2082</text><text x="771.6" y="1261">1n 160V</text>
<text x="846" y="1246">R2087</text><text x="846" y="1260">825k</text><text x="852" y="1275">adj.</text><text x="828" y="1283" class="n12">c</text><text x="839" y="1283" class="n12">c</text>
<text class="l" x="864" y="1286">+140V</text>
<text x="850" y="1304">VR2081</text><text x="850" y="1317">2k5</text><text x="848" y="1336">R2087</text><text x="848" y="1350">14k</text>
<text x="713.3" y="1295">D2082</text><text x="713.8" y="1309">1N4149</text><text x="778.7" y="1332">IC2081</text><text x="779.5" y="1345">TL431C</text>
</svg>
</body></html>
